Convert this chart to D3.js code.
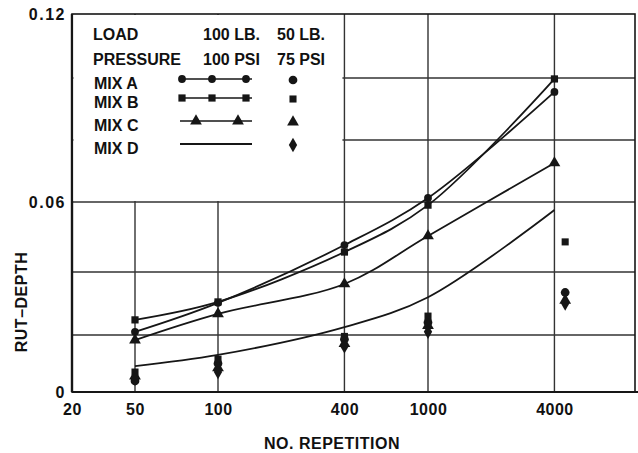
<!DOCTYPE html>
<html>
<head>
<meta charset="utf-8">
<script src="https://cdn.jsdelivr.net/npm/d3@7"></script>
<style>
  body { margin: 0; background: #fff; }
  text { font-family: "Liberation Sans", Arial, sans-serif; font-weight: bold; fill: #111; }
</style>
</head>
<body>
<div id="chart"></div>
<script>
// 100 LB. / 100 PSI curves
const reps = [50, 100, 400, 1000, 4000];
const mixA100 = [0.021, 0.0302, 0.0477, 0.0613, 0.0955];
const mixB100 = [0.0248, 0.0305, 0.0457, 0.0591, 0.0997];
const mixC100 = [0.0182, 0.0267, 0.0362, 0.0503, 0.0726];
const mixD100 = [0.0091, 0.013, 0.0225, 0.032, 0.0577];

// 50 LB. / 75 PSI single points
const reps50 = [50, 100, 400, 1000, 4500];
const mixA50 = [0.0039, 0.010, 0.0185, 0.024, 0.0335];
const mixB50 = [0.007, 0.0115, 0.0195, 0.026, 0.0486];
const mixC50 = [0.0056, 0.0085, 0.017, 0.023, 0.031];
const mixD50 = [0.0046, 0.007, 0.016, 0.021, 0.030];

const mixNames = ["MIX A", "MIX B", "MIX C", "MIX D"];
const xTicks = [20, 50, 100, 400, 1000, 4000];
const xGrid = [50, 100, 400, 1000, 4000];
const yTicks = [0, 0.06, 0.12];
const yGrid = [0.02, 0.04, 0.06, 0.08, 0.10];

const width = 638, height = 453;
const margin = ({ top: 14, right: 635, bottom: 392, left: 72 }); // plot frame edges

const svg = d3.select("#chart").append("svg")
    .attr("width", width)
    .attr("height", height);

// paper is hand drawn: spacing follows the original grid
const x = d3.scaleLog()
    .domain([20, 50, 100, 10000])
    .range([margin.left, 135, 218, 638]);

const y = d3.scaleLinear()
    .domain([0, 0.02, 0.04, 0.06, 0.08, 0.10, 0.12])
    .range([margin.bottom, 335, 272, 202, 140, 78, margin.top]);

const ink = "#161616";

// grid
svg.append("g").selectAll("line")
    .data(yGrid)
    .join("line")
    .attr("x1", margin.left).attr("x2", margin.right)
    .attr("y1", d => y(d)).attr("y2", d => y(d))
    .attr("stroke", "#333").attr("stroke-width", 1.4);

svg.append("g").selectAll("line")
    .data(xGrid)
    .join("line")
    .attr("x1", d => x(d)).attr("x2", d => x(d))
    .attr("y1", margin.top).attr("y2", margin.bottom)
    .attr("stroke", "#333").attr("stroke-width", 1.4);

// frame
svg.append("rect")
    .attr("x", margin.left).attr("y", margin.top)
    .attr("width", margin.right - margin.left).attr("height", margin.bottom - margin.top)
    .attr("fill", "none").attr("stroke", ink).attr("stroke-width", 1.6);
svg.append("line")
    .attr("x1", margin.left).attr("x2", margin.left).attr("y1", margin.top).attr("y2", margin.bottom)
    .attr("stroke", ink).attr("stroke-width", 2.4);
svg.append("line")
    .attr("x1", margin.left).attr("x2", width).attr("y1", margin.bottom).attr("y2", margin.bottom)
    .attr("stroke", ink).attr("stroke-width", 2.2);

// legend box covers the grid in the upper left
const legX1 = x(400) - 2, legY2 = y(0.06) - 1;
svg.append("rect")
    .attr("x", margin.left + 1.5).attr("y", margin.top + 1)
    .attr("width", legX1 - margin.left - 1.5).attr("height", legY2 - margin.top - 1)
    .attr("fill", "#fff");

// axes
const xAxis = svg.append("g")
    .attr("transform", `translate(0,${margin.bottom})`)
    .call(d3.axisBottom(x).tickValues(xTicks).tickFormat(d3.format("d")).tickSize(0).tickPadding(12));
xAxis.select(".domain").remove();
xAxis.selectAll("text")
    .style("font-size", "16px")
    .style("letter-spacing", "0.5px")
    .style("font-family", "'Liberation Sans', Arial, sans-serif")
    .style("font-weight", "bold")
    .attr("fill", ink);

const yAxis = svg.append("g")
    .attr("transform", `translate(${margin.left},0)`)
    .call(d3.axisLeft(y).tickValues(yTicks)
        .tickFormat(d => d === 0 ? "0" : d3.format(".2f")(d))
        .tickSize(0).tickPadding(6));
yAxis.select(".domain").remove();
yAxis.selectAll("text")
    .style("font-size", "16px")
    .style("letter-spacing", "1.5px")
    .style("font-family", "'Liberation Sans', Arial, sans-serif")
    .style("font-weight", "bold")
    .attr("fill", ink);

// axis titles
svg.append("text")
    .attr("x", 332).attr("y", 449)
    .attr("text-anchor", "middle")
    .style("font-size", "16px")
    .style("letter-spacing", "0.5px")
    .text("NO. REPETITION");

svg.append("text")
    .attr("transform", "translate(27,302) rotate(-90)")
    .attr("text-anchor", "middle")
    .style("font-size", "16px")
    .style("letter-spacing", "0.5px")
    .text("RUT–DEPTH");

// series
const series = [
    { name: mixNames[0], v100: mixA100, v50: mixA50, sym: d3.symbolCircle, size: 48, big: 60 },
    { name: mixNames[1], v100: mixB100, v50: mixB50, sym: d3.symbolSquare, size: 52, big: 50 },
    { name: mixNames[2], v100: mixC100, v50: mixC50, sym: d3.symbolTriangle, size: 60, big: 60 },
    { name: mixNames[3], v100: mixD100, v50: mixD50, sym: d3.symbolDiamond, size: 0, big: 60 }
];

const line = d3.line()
    .x(d => x(d[0]))
    .y(d => y(d[1]))
    .curve(d3.curveCatmullRom.alpha(0.5));

for (let s of series) {
    let pts = reps.map((r, i) => [r, s.v100[i]]);
    svg.append("path")
        .datum(pts)
        .attr("d", line)
        .attr("fill", "none")
        .attr("stroke", ink)
        .attr("stroke-width", 1.8);

    if (s.size > 0) {
        svg.append("g").selectAll("path")
            .data(pts)
            .join("path")
            .attr("transform", d => `translate(${x(d[0])},${y(d[1])})`)
            .attr("d", d3.symbol(s.sym, s.size))
            .attr("fill", ink);
    }

    let pts50 = reps50.map((r, i) => [r, s.v50[i]]);
    svg.append("g").selectAll("path")
        .data(pts50)
        .join("path")
        .attr("transform", d => `translate(${x(d[0])},${y(d[1])})`)
        .attr("d", d3.symbol(s.sym, s.big))
        .attr("fill", ink);
}

// legend
const lg = svg.append("g");
const headRows = [["LOAD", "100 LB.", "50 LB."], ["PRESSURE", "100 PSI", "75 PSI"]];
headRows.forEach((row, i) => {
    let yy = 40 + i * 25;
    lg.append("text").attr("x", 93).attr("y", yy).style("font-size", "16px").text(row[0]);
    lg.append("text").attr("x", 203).attr("y", yy).style("font-size", "16px").text(row[1]);
    lg.append("text").attr("x", 277).attr("y", yy).style("font-size", "16px").text(row[2]);
});

const rowY = [79, 98, 121, 144];
series.forEach((s, i) => {
    let yy = rowY[i];
    lg.append("text").attr("x", 94).attr("y", yy + 10).style("font-size", "16px").text(s.name);
    lg.append("line")
        .attr("x1", 180).attr("x2", 252).attr("y1", yy).attr("y2", yy)
        .attr("stroke", ink).attr("stroke-width", i === 3 ? 2 : 1.6);
    let marks = i === 2 ? [196, 238] : (i === 3 ? [] : [182, 212, 246]);
    lg.selectAll(null)
        .data(marks)
        .join("path")
        .attr("transform", d => `translate(${d},${yy})`)
        .attr("d", d3.symbol(s.sym, s.size))
        .attr("fill", ink);
    lg.append("path")
        .attr("transform", `translate(293,${yy + 1})`)
        .attr("d", d3.symbol(s.sym, s.big))
        .attr("fill", ink);
});
</script>
</body>
</html>
